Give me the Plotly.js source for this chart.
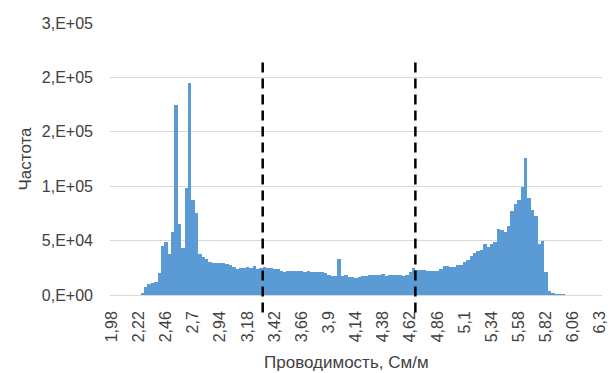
<!DOCTYPE html>
<html>
<head>
<meta charset="utf-8">
<script src="https://cdn.plot.ly/plotly-3.0.1.min.js"></script>
<style>html,body{margin:0;padding:0;background:#fff;}#chart{width:616px;height:373px;}</style>
</head>
<body>
<div id="chart"></div>
<script>
// Bin start and step (Проводимость, См/м)
const binStart = 1.98;
const binStep = 0.03;
// Frequencies per bin (Частота), 145 bins from 1,98 to 6,3
const counts = [
  0, 0, 0, 0, 0, 0, 0, 0, 300, 2000,
  7300, 10000, 11400, 11600, 20000, 45000, 49000, 38000, 58000, 175000,
  65000, 43000, 98000, 195000, 87000, 75000, 38000, 35000, 33000, 30000,
  29500, 29000, 29000, 29000, 28500, 28000, 26000, 24000, 25000, 25000,
  26000, 25000, 26500, 24000, 25000, 25500, 25000, 25000, 24000, 23500,
  22000, 20800, 22000, 21800, 22000, 22500, 22000, 21000, 22000, 21000,
  20800, 21000, 20800, 20500, 18300, 17500, 17800, 33400, 17800, 18000,
  17000, 16200, 15900, 17000, 17500, 17500, 18500, 18100, 18700, 18500,
  19000, 17500, 18000, 18000, 18500, 18000, 17500, 18000, 20800, 24800,
  22600, 23200, 23000, 22000, 21700, 21800, 22500, 24000, 26600, 26600,
  26000, 25400, 27200, 27500, 30000, 32000, 36000, 39000, 40800, 41000,
  46500, 44000, 47200, 48600, 60900, 59300, 57800, 63000, 77000, 84000,
  87500, 99500, 126000, 89000, 78000, 73000, 47000, 49500, 21000, 3700,
  1800, 800, 600, 500, 400, 300, 300, 200, 300, 200,
  200, 100, 100, 100, 0
];
const bins = counts.map((_, i) => Math.round((binStart + i * binStep) * 100) / 100);
// Vertical threshold lines
const thresholds = [3.315, 4.665];
// Axis ticks
const xTickVals = [1.98, 2.22, 2.46, 2.7, 2.94, 3.18, 3.42, 3.66, 3.9, 4.14, 4.38, 4.62, 4.86, 5.1, 5.34, 5.58, 5.82, 6.06, 6.3];
const xTickText = ["1,98", "2,22", "2,46", "2,7", "2,94", "3,18", "3,42", "3,66", "3,9", "4,14", "4,38", "4,62", "4,86", "5,1", "5,34", "5,58", "5,82", "6,06", "6,3"];
const yTickVals = [0, 50000, 100000, 150000, 200000, 250000];
const yTickText = ["0,E+00", "5,E+04", "1,E+05", "2,E+05", "2,E+05", "3,E+05"];
const xTitle = "Проводимость, См/м";
const yTitle = "Частота";

const FONT = "Liberation Sans, Arial, sans-serif";
const TXT = "#404040";

const trace = {
  type: "bar",
  x: bins,
  y: counts,
  width: binStep,
  marker: {color: "#5b9bd5", line: {width: 0}},
  hoverinfo: "x+y"
};

const shapes = thresholds.map(t => ({
  type: "line", xref: "x", yref: "paper",
  x0: t, x1: t, y0: -0.064, y1: 0.855,
  line: {color: "#000", width: 2.5, dash: "10px,6px"},
  layer: "above"
}));

const layout = {
  width: 616, height: 373,
  margin: {l: 110, r: 14, t: 23, b: 78, pad: 0},
  paper_bgcolor: "#fff", plot_bgcolor: "#fff",
  bargap: 0,
  showlegend: false,
  font: {family: FONT, size: 16, color: TXT},
  xaxis: {
    type: "linear",
    range: [binStart - binStep / 2, 6.3 + binStep / 2],
    tickmode: "array", tickvals: xTickVals, ticktext: xTickText,
    tickangle: -90, tickfont: {family: FONT, size: 16, color: TXT},
    ticks: "", ticklabelstandoff: 12,
    showgrid: false, zeroline: false, showline: false,
    fixedrange: true
  },
  yaxis: {
    range: [0, 250000],
    tickmode: "array", tickvals: yTickVals, ticktext: yTickText,
    tickfont: {family: FONT, size: 16, color: TXT},
    ticks: "", ticklabelstandoff: 16,
    showgrid: true, gridcolor: "#d9d9d9", gridwidth: 1,
    zeroline: true, zerolinecolor: "#d9d9d9", zerolinewidth: 1,
    showline: false,
    title: {text: yTitle, font: {family: FONT, size: 17, color: TXT}, standoff: 5},
    fixedrange: true
  },
  shapes: shapes,
  annotations: [{
    text: xTitle, xref: "paper", yref: "paper",
    x: 0.4797, y: -0.247, xanchor: "center", yanchor: "middle",
    showarrow: false, font: {family: FONT, size: 17, color: TXT}
  }]
};

Plotly.newPlot("chart", [trace], layout, {displayModeBar: false, staticPlot: true});
</script>
</body>
</html>
